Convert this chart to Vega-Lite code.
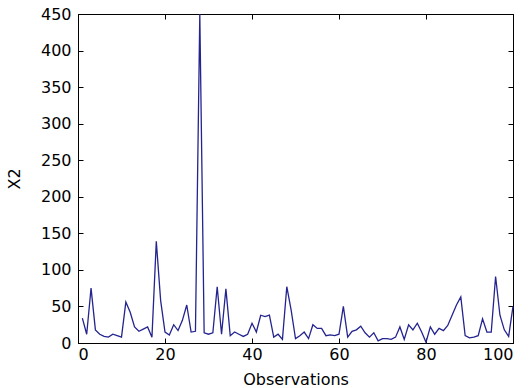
{
  "$schema": "https://vega.github.io/schema/vega-lite/v6.json",
  "autosize": {"type": "none"},
  "padding": {"left": 78, "top": 14, "right": 18, "bottom": 45},
  "width": 435,
  "height": 329,
  "background": "white",
  "config": {
    "view": {"stroke": "black", "strokeWidth": 1},
    "axis": {
      "labelFont": "DejaVu Sans", "labelFontSize": 16, "labelColor": "black",
      "titleFont": "DejaVu Sans", "titleFontSize": 16, "titleFontWeight": "normal", "titleColor": "black",
      "domainColor": "black", "tickColor": "black", "grid": false
    }
  },
  "data": {"values": [
    {"obs":1,"x2":34},{"obs":2,"x2":12},{"obs":3,"x2":75},{"obs":4,"x2":18},{"obs":5,"x2":12},
    {"obs":6,"x2":9},{"obs":7,"x2":8},{"obs":8,"x2":12},{"obs":9,"x2":10},{"obs":10,"x2":8},
    {"obs":11,"x2":56},{"obs":12,"x2":42},{"obs":13,"x2":22},{"obs":14,"x2":16},{"obs":15,"x2":19},
    {"obs":16,"x2":22},{"obs":17,"x2":8},{"obs":18,"x2":139},{"obs":19,"x2":58},{"obs":20,"x2":15},
    {"obs":21,"x2":11},{"obs":22,"x2":25},{"obs":23,"x2":17},{"obs":24,"x2":31},{"obs":25,"x2":52},
    {"obs":26,"x2":15},{"obs":27,"x2":16},{"obs":28,"x2":450},{"obs":29,"x2":14},{"obs":30,"x2":12},
    {"obs":31,"x2":14},{"obs":32,"x2":77},{"obs":33,"x2":12},{"obs":34,"x2":74},{"obs":35,"x2":10},
    {"obs":36,"x2":15},{"obs":37,"x2":12},{"obs":38,"x2":9},{"obs":39,"x2":12},{"obs":40,"x2":27},
    {"obs":41,"x2":15},{"obs":42,"x2":38},{"obs":43,"x2":36},{"obs":44,"x2":38},{"obs":45,"x2":8},
    {"obs":46,"x2":12},{"obs":47,"x2":5},{"obs":48,"x2":77},{"obs":49,"x2":45},{"obs":50,"x2":6},
    {"obs":51,"x2":10},{"obs":52,"x2":15},{"obs":53,"x2":6},{"obs":54,"x2":25},{"obs":55,"x2":20},
    {"obs":56,"x2":20},{"obs":57,"x2":10},{"obs":58,"x2":11},{"obs":59,"x2":10},{"obs":60,"x2":12},
    {"obs":61,"x2":50},{"obs":62,"x2":8},{"obs":63,"x2":16},{"obs":64,"x2":18},{"obs":65,"x2":23},
    {"obs":66,"x2":14},{"obs":67,"x2":8},{"obs":68,"x2":14},{"obs":69,"x2":3},{"obs":70,"x2":6},
    {"obs":71,"x2":6},{"obs":72,"x2":5},{"obs":73,"x2":8},{"obs":74,"x2":22},{"obs":75,"x2":5},
    {"obs":76,"x2":25},{"obs":77,"x2":18},{"obs":78,"x2":27},{"obs":79,"x2":15},{"obs":80,"x2":1},
    {"obs":81,"x2":22},{"obs":82,"x2":12},{"obs":83,"x2":20},{"obs":84,"x2":17},{"obs":85,"x2":24},
    {"obs":86,"x2":38},{"obs":87,"x2":52},{"obs":88,"x2":63},{"obs":89,"x2":10},{"obs":90,"x2":7},
    {"obs":91,"x2":8},{"obs":92,"x2":10},{"obs":93,"x2":33},{"obs":94,"x2":15},{"obs":95,"x2":15},
    {"obs":96,"x2":91},{"obs":97,"x2":38},{"obs":98,"x2":18},{"obs":99,"x2":9},{"obs":100,"x2":50}
  ]},
  "layer": [
    {
      "mark": {"type": "line", "color": "#24248f", "strokeWidth": 1.3},
      "encoding": {
        "x": {"field": "obs", "type": "quantitative", "scale": {"domain": [0, 100], "nice": false},
              "axis": {"orient": "bottom", "title": "Observations", "values": [0,20,40,60,80,100], "tickSize": -5, "labelPadding": 8, "titlePadding": 9}},
        "y": {"field": "x2", "type": "quantitative", "scale": {"domain": [0, 450], "nice": false},
              "axis": {"orient": "left", "title": "X2", "values": [0,50,100,150,200,250,300,350,400,450], "tickSize": -5, "labelPadding": 12, "titlePadding": 18}}
      }
    },
    {
      "mark": {"type": "line", "strokeOpacity": 0},
      "encoding": {
        "x": {"field": "obs", "type": "quantitative",
              "axis": {"orient": "top", "title": null, "labels": false, "values": [0,20,40,60,80,100], "tickSize": -5}},
        "y": {"field": "x2", "type": "quantitative",
              "axis": {"orient": "right", "title": null, "labels": false, "values": [0,50,100,150,200,250,300,350,400,450], "tickSize": -5}}
      }
    }
  ],
  "resolve": {"axis": {"x": "independent", "y": "independent"}}
}
